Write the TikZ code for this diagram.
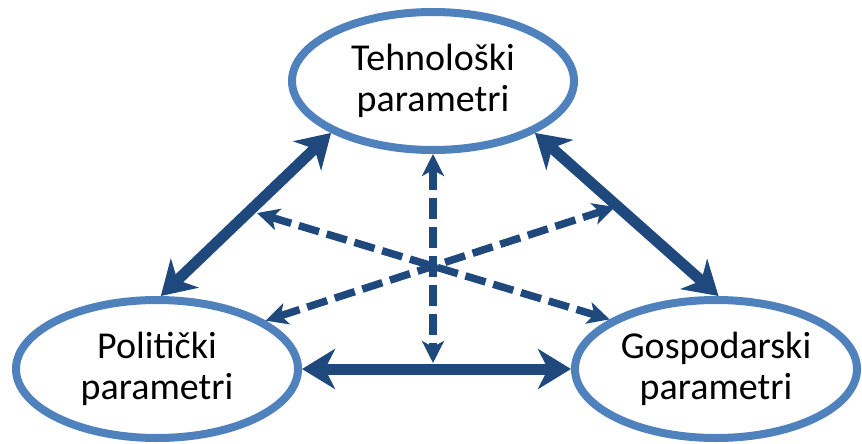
\documentclass[tikz,border=0pt]{standalone}
\usepackage{fontspec}
\setmainfont{Carlito}
\usetikzlibrary{arrows.meta,calc,shapes.geometric}
\definecolor{ellblue}{HTML}{4F81BD}
\definecolor{arrblue}{HTML}{1F497D}
\tikzset{
  param/.style={draw=ellblue, line width=8pt, ellipse, fill=white,
    minimum width=282pt, minimum height=138pt, inner sep=0pt,
    align=center, font=\fontsize{38}{41}\selectfont, text=black},
  bigarrow/.style={draw=arrblue, line width=11pt,
    {Stealth[length=33pt,width=40pt,inset=10pt]}-{Stealth[length=33pt,width=40pt,inset=10pt]}},
  dasharrow/.style={draw=arrblue, line width=7.5pt, dash pattern=on 21pt off 8pt,
    {Stealth[length=22pt,width=22pt,inset=6pt]}-{Stealth[length=22pt,width=22pt,inset=6pt]}}
}
\begin{document}
\begin{tikzpicture}[x=1pt,y=-1pt]
\useasboundingbox (0,0) rectangle (862,444);
\node[param] (T) at (433,81) {Tehnološki\\parametri};
\node[param] (L) at (157,369) {Politički\\parametri};
\node[param] (R) at (716,369) {Gospodarski\\parametri};
\coordinate (vd) at (433,363);
\coordinate (ul) at (257,213);
\coordinate (ur) at (615,207);
% solid arrows
\draw[bigarrow] (L.87) -- (T.207);
\draw[bigarrow] (T.333) -- (R.88);
\draw[bigarrow] (L.east) -- (R.west);
% dashed arrows
\draw[dasharrow] (T.south) -- (vd);
\draw[dasharrow] (ul) -- (R.155);
\draw[dasharrow] (L.24) -- (ur);
\end{tikzpicture}
\end{document}
